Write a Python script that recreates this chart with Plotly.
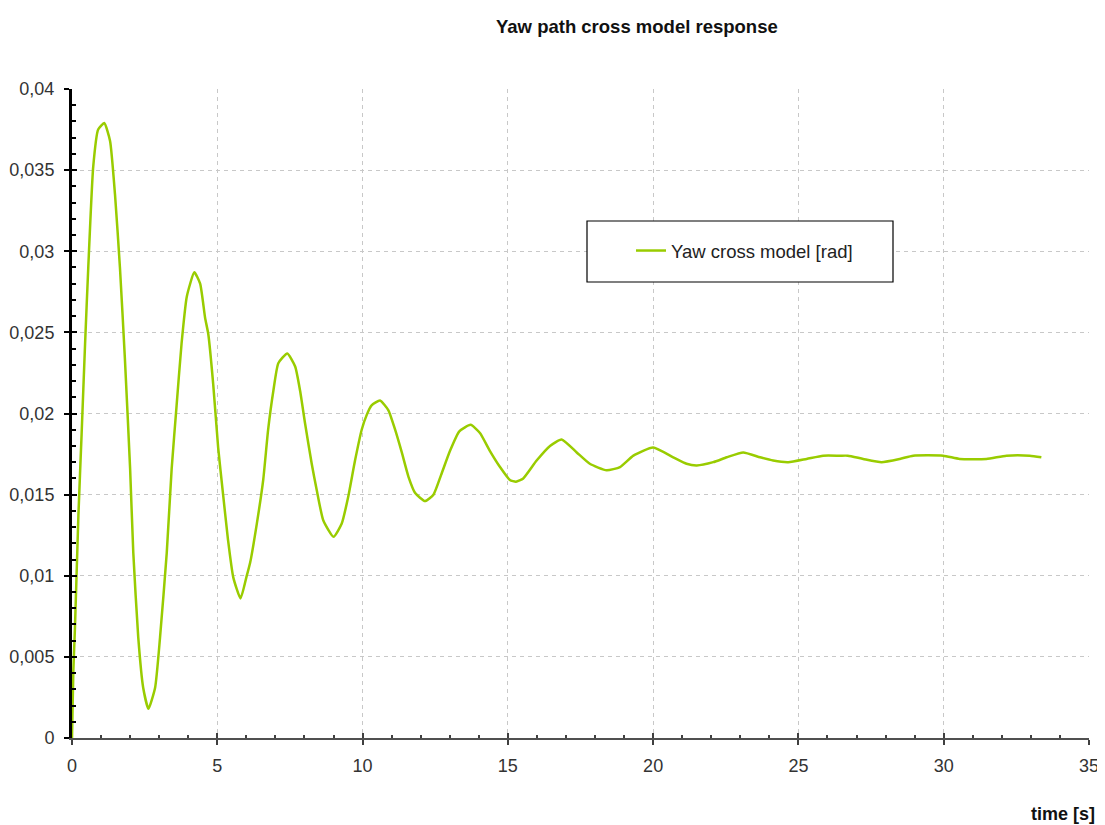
import plotly.graph_objects as go

# ---- data ----
time_s = [0, 0.045, 0.1, 0.22, 0.33, 0.45, 0.56, 0.73, 0.9, 1.11, 1.31, 1.48, 1.65, 1.82, 2.0, 2.11,
          2.28, 2.45, 2.63, 2.86, 3.03, 3.26, 3.43, 3.6, 3.77, 3.95, 4.21, 4.41, 4.58, 4.69, 4.86,
          5.03, 5.2, 5.37, 5.55, 5.8, 6.0, 6.13, 6.36, 6.58, 6.75, 6.93, 7.1, 7.41, 7.68, 7.85,
          8.02, 8.25, 8.42, 8.65, 9.0, 9.28, 9.51, 9.74, 9.97, 10.14, 10.31, 10.6, 10.89, 11.12,
          11.35, 11.58, 11.81, 12.15, 12.44, 12.7, 13.01, 13.33, 13.72, 14.04, 14.38, 14.73,
          15.07, 15.28, 15.53, 15.99, 16.45, 16.85, 17.37, 17.82, 18.4, 18.86, 19.32, 20.0,
          20.69, 21.15, 21.5, 22.07, 22.53, 23.1, 23.68, 24.13, 24.65, 25.28, 25.85, 26.43,
          26.7, 27.23, 27.86, 28.49, 28.95, 29.98, 30.55, 31.47, 32.16, 32.96, 33.36]

yaw_rad = [0, 0.0041, 0.0067, 0.0137, 0.0187, 0.0243, 0.029, 0.0352, 0.0375, 0.0379, 0.0368,
           0.0335, 0.029, 0.0234, 0.0166, 0.0114, 0.0062, 0.0031, 0.0018, 0.0031, 0.0062, 0.0114,
           0.0166, 0.0205, 0.0243, 0.0272, 0.0287, 0.028, 0.0259, 0.0249, 0.0218, 0.0179, 0.015,
           0.0122, 0.0099, 0.0086, 0.0099, 0.0108, 0.0132, 0.0159, 0.019, 0.0214, 0.0231, 0.0237,
           0.0229, 0.0214, 0.0194, 0.0169, 0.0153, 0.0134, 0.0124, 0.0132, 0.0149, 0.0171, 0.019,
           0.0199, 0.0205, 0.0208, 0.0202, 0.019, 0.0176, 0.0161, 0.0151, 0.0146, 0.015, 0.0162,
           0.0177, 0.0189, 0.0193, 0.0188, 0.0177, 0.0167, 0.0159, 0.0158, 0.016, 0.0171, 0.018,
           0.0184, 0.0176, 0.0169, 0.0165, 0.0167, 0.0174, 0.0179, 0.0173, 0.0169, 0.0168, 0.017,
           0.0173, 0.0176, 0.0173, 0.0171, 0.017, 0.0172, 0.0174, 0.0174, 0.0174, 0.0172, 0.017,
           0.0172, 0.0174, 0.0174, 0.0172, 0.0172, 0.0174, 0.0174, 0.0173]

x_ticks = [0, 5, 10, 15, 20, 25, 30, 35]
x_tick_labels = ["0", "5", "10", "15", "20", "25", "30", "35"]
y_ticks = [0, 0.005, 0.01, 0.015, 0.02, 0.025, 0.03, 0.035, 0.04]
y_tick_labels = ["0", "0,005", "0,01", "0,015", "0,02", "0,025", "0,03", "0,035", "0,04"]
x_grid = x_ticks[1:-1]
y_grid = y_ticks[1:-1]

series_name = "Yaw cross model [rad]"
title_text = "Yaw path cross model response"
x_title = "time [s]"

X_RANGE = [0, 35]
Y_RANGE = [0, 0.04]
FONT = "Liberation Sans, Arial, sans-serif"
GREEN = "#99CC00"

# page pixel geometry (the page body adds an 8px offset)
OFF = 8
PL, PR, PT, PB = 72, 1089, 89, 738          # plot area in page pixels
PW, PH = PR - PL, PB - PT


def px(xp):
    return (xp - PL) / PW


def py(yp):
    return (PB - yp) / PH


fig = go.Figure()

# grid layer (bottom)
fig.add_trace(go.Scatter(x=time_s, y=yaw_rad, xaxis="x", yaxis="y", mode="lines",
                         opacity=0, showlegend=False, hoverinfo="skip"))
# inside ticks layer
fig.add_trace(go.Scatter(x=time_s, y=yaw_rad, xaxis="x2", yaxis="y2", mode="lines",
                         opacity=0, showlegend=False, hoverinfo="skip"))
# main data layer
fig.add_trace(go.Scatter(x=time_s, y=yaw_rad, xaxis="x3", yaxis="y3", mode="lines",
                         name=series_name,
                         line=dict(color=GREEN, width=2.5, shape="spline", smoothing=0.5)))

common_hidden = dict(showticklabels=False, showline=False, zeroline=False, fixedrange=True,
                     automargin=False)

fig.update_layout(
    width=1105 - OFF, height=825 - OFF, autosize=False,
    margin=dict(l=PL - OFF, r=(1105 - OFF) - (PR - OFF), t=PT - OFF, b=(825 - OFF) - (PB - OFF),
                pad=0),
    paper_bgcolor="white", plot_bgcolor="white",
    font=dict(family=FONT, size=18, color="#333333"),
    showlegend=True,
    xaxis=dict(range=X_RANGE, tickvals=x_grid, ticks="", showgrid=True,
               gridcolor="#c8c8c8", gridwidth=1, griddash="4px,4px", **common_hidden),
    yaxis=dict(range=Y_RANGE, tickvals=y_grid, ticks="", showgrid=True,
               gridcolor="#c8c8c8", gridwidth=1, griddash="4px,4px", **common_hidden),
    xaxis2=dict(range=X_RANGE, overlaying="x", anchor="y2", tickvals=x_ticks, ticks="inside",
                ticklen=5, tickwidth=1.5, tickcolor="#404040", showgrid=False,
                minor=dict(tick0=0, dtick=1, ticks="inside", ticklen=3, tickwidth=1.5,
                           tickcolor="#404040", showgrid=False),
                **common_hidden),
    yaxis2=dict(range=Y_RANGE, overlaying="y", anchor="x2", tickvals=y_ticks, ticks="inside",
                ticklen=5, tickwidth=2, tickcolor="black", showgrid=False,
                minor=dict(tick0=0, dtick=0.001, ticks="inside", ticklen=4, tickwidth=2,
                           tickcolor="black", showgrid=False),
                **common_hidden),
    xaxis3=dict(range=X_RANGE, overlaying="x", anchor="y3", tickvals=x_ticks,
                ticktext=x_tick_labels, ticks="outside", ticklen=5, tickwidth=1.5,
                tickcolor="#404040", showline=True, linecolor="#505050", linewidth=2,
                showgrid=False, zeroline=False, ticklabelstandoff=5, fixedrange=True,
                automargin=False,
                tickfont=dict(family=FONT, size=18, color="#333333")),
    yaxis3=dict(range=Y_RANGE, overlaying="y", anchor="x3", tickvals=y_ticks,
                ticktext=y_tick_labels, ticks="outside", ticklen=5, tickwidth=2,
                tickcolor="black", showline=True, linecolor="black", linewidth=3,
                showgrid=False, zeroline=False, ticklabelstandoff=6, fixedrange=True,
                automargin=False, layer="below traces",
                tickfont=dict(family=FONT, size=18, color="#333333")),
    legend=dict(x=px(631), y=py(251), xanchor="left", yanchor="middle",
                bgcolor="rgba(0,0,0,0)", borderwidth=0,
                font=dict(family=FONT, size=18.5, color="#222222")),
    shapes=[dict(type="rect", xref="paper", yref="paper",
                 x0=px(587), x1=px(893), y0=py(282), y1=py(221),
                 line=dict(color="black", width=1.2), fillcolor="white", layer="above")],
    annotations=[
        dict(text="<b>" + title_text + "</b>", xref="paper", yref="paper",
             x=px(637), y=py(27), xanchor="center", yanchor="middle",
             showarrow=False, font=dict(family=FONT, size=18.5, color="#111111")),
        dict(text="<b>" + x_title + "</b>", xref="paper", yref="paper",
             x=px(1097), y=py(814), xanchor="right", yanchor="middle",
             showarrow=False, font=dict(family=FONT, size=18, color="#111111")),
    ],
)

fig.write_html("out.html")
